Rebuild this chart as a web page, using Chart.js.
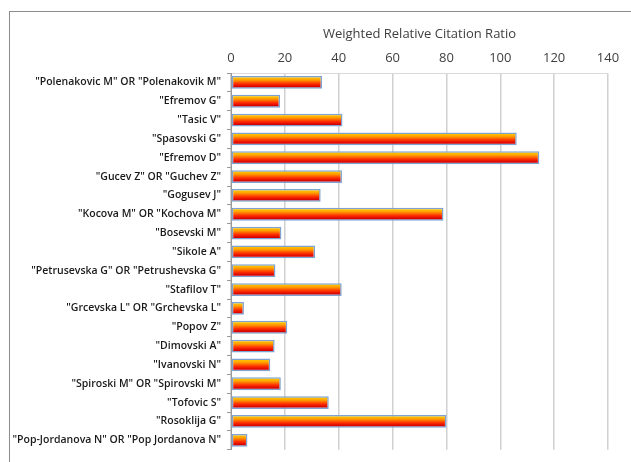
<!DOCTYPE html>
<html>
<head>
<meta charset="utf-8">
<script src="https://cdn.jsdelivr.net/npm/chart.js@4.4.0/dist/chart.umd.min.js"></script>
<style>
    html, body { margin: 0; padding: 0; background: #fff; overflow: hidden; }
    #wrap { position: relative; width: 631px; height: 462px; }
    #frame { position: absolute; left: 9px; top: 11px; width: 640px; height: 470px; border: 1px solid #8c8c8c; box-sizing: border-box; }
    canvas { position: absolute; left: 0; top: 0; }
</style>
</head>
<body>
<div id="wrap">
    <div id="frame"></div>
    <canvas id="chart" width="631" height="462"></canvas>
</div>
<script>
// Author name queries and their weighted RCR
const authors = [
    '"Polenakovic M" OR "Polenakovik M"',
    '"Efremov G"',
    '"Tasic V"',
    '"Spasovski G"',
    '"Efremov D"',
    '"Gucev Z" OR "Guchev Z"',
    '"Gogusev J"',
    '"Kocova M" OR "Kochova M"',
    '"Bosevski M"',
    '"Sikole A"',
    '"Petrusevska G" OR "Petrushevska G"',
    '"Stafilov T"',
    '"Grcevska L" OR "Grchevska L"',
    '"Popov Z"',
    '"Dimovski A"',
    '"Ivanovski N"',
    '"Spiroski M" OR "Spirovski M"',
    '"Tofovic S"',
    '"Rosoklija G"',
    '"Pop-Jordanova N" OR "Pop Jordanova N"'
];

const weightedRcr = [33.8, 18.2, 41.4, 106.1, 114.5, 41.2, 33.3, 78.9, 18.7, 31.2,
    16.5, 41.1, 4.8, 20.9, 16.2, 14.6, 18.5, 36.3, 80.0, 6.1];

const axisTicks = [0, 20, 40, 60, 80, 100, 120, 140];

const BAR_PCT = 0.68;

// vertical "fire" gradient for each bar
function fireGradient(c) {
    const chart = c.chart;
    const y = chart.scales.y;
    if (!chart.chartArea || !y) return '#ff4000';
    const step = Math.abs(y.getPixelForValue(1) - y.getPixelForValue(0));
    const mid = y.getPixelForValue(c.dataIndex);
    const half = step * BAR_PCT / 2;
    const g = chart.ctx.createLinearGradient(0, mid - half, 0, mid + half);
    g.addColorStop(0, '#ffd800');
    g.addColorStop(0.3, '#ffa000');
    g.addColorStop(0.6, '#ff3000');
    g.addColorStop(0.85, '#d40000');
    g.addColorStop(1, '#9a0018');
    return g;
}

const ctx = document.getElementById('chart').getContext('2d');

new Chart(ctx, {
    type: 'bar',
    data: {
        labels: authors,
        datasets: [{
            label: 'Weighted Relative Citation Ratio',
            data: weightedRcr,
            backgroundColor: fireGradient,
            borderColor: '#7ea3d2',
            borderWidth: 1.5,
            borderSkipped: false,
            barPercentage: BAR_PCT,
            categoryPercentage: 1
        }]
    },
    options: {
        indexAxis: 'y',
        responsive: false,
        animation: false,
        layout: {
            padding: { left: 0, right: 23, top: 26, bottom: 8 }
        },
        plugins: {
            legend: { display: false },
            tooltip: { enabled: false }
        },
        scales: {
            x: {
                position: 'top',
                min: 0,
                max: 140,
                afterBuildTicks: (axis) => {
                    axis.ticks = axisTicks.map(v => ({ value: v }));
                },
                afterFit: (axis) => { axis.height = 47; },
                title: {
                    display: true,
                    text: 'Weighted Relative Citation Ratio',
                    color: '#404040',
                    font: { family: 'Open Sans', size: 13 },
                    padding: { top: 0, bottom: 2 }
                },
                ticks: {
                    color: '#404040',
                    font: { family: 'Open Sans', size: 13 },
                    padding: 7
                },
                grid: {
                    color: '#d0d0d0',
                    lineWidth: 1.5,
                    tickLength: 0
                },
                border: { color: '#d9d9d9' }
            },
            y: {
                afterFit: (axis) => { axis.width = 231; },
                ticks: {
                    color: '#1a1a1a',
                    font: { family: 'Open Sans', size: 10.5, weight: '600' },
                    padding: 6,
                    autoSkip: false
                },
                grid: {
                    drawOnChartArea: false,
                    tickLength: 4,
                    color: '#9a9a9a'
                },
                border: { color: '#9a9a9a' }
            }
        }
    }
});
</script>
</body>
</html>
